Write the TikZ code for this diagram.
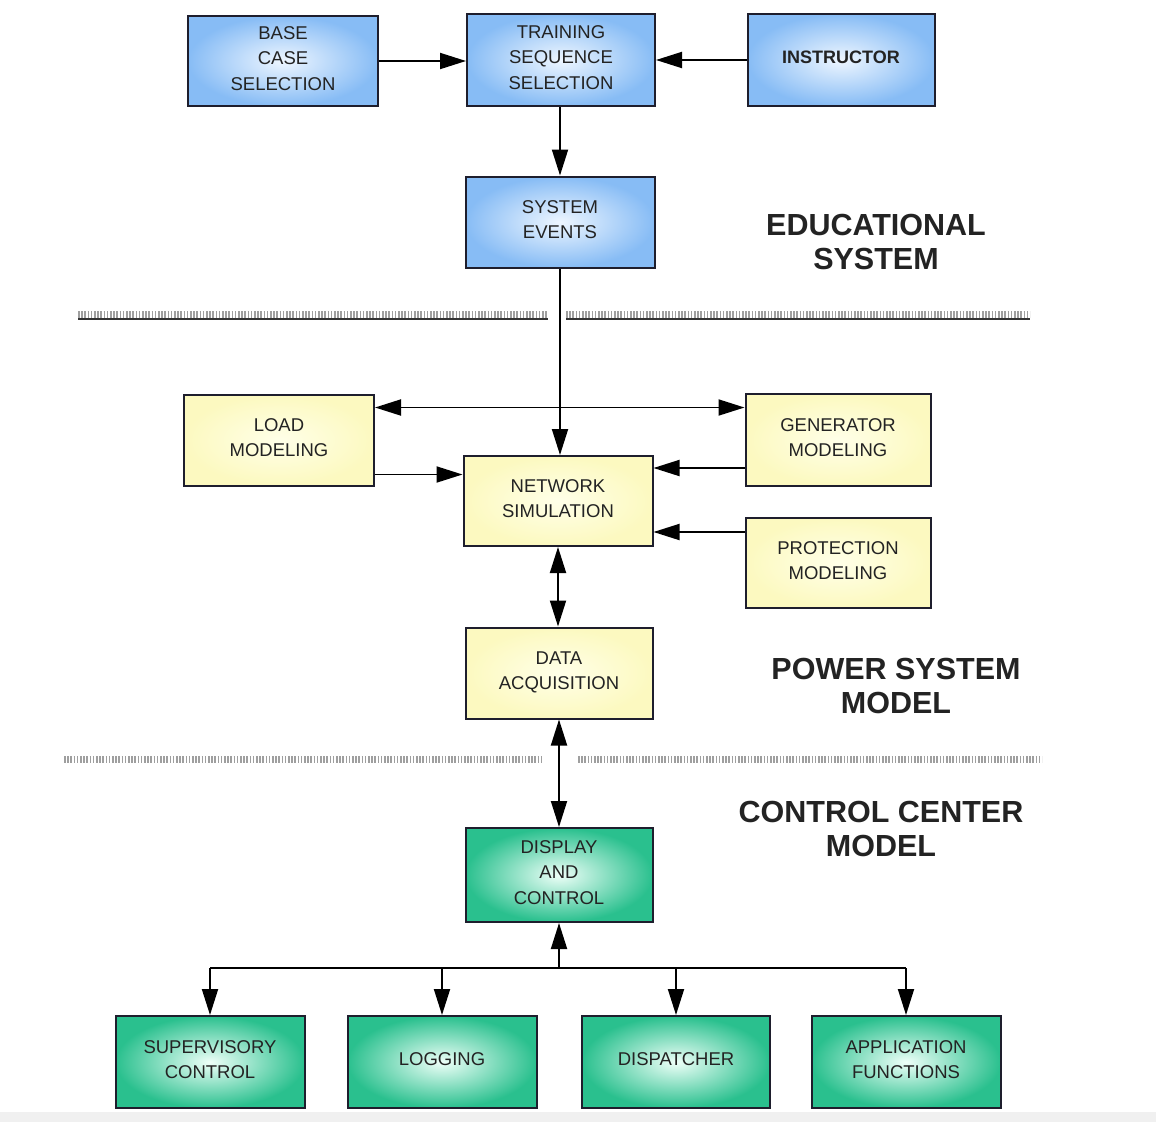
\documentclass[tikz,border=0pt]{standalone}
\usepackage{fontspec}
\setmainfont{Liberation Sans}
\usetikzlibrary{arrows.meta}
\definecolor{blueout}{RGB}{135,188,245}
\definecolor{bluein}{RGB}{238,246,255}
\definecolor{yelout}{RGB}{252,249,192}
\definecolor{yelin}{RGB}{255,255,232}
\definecolor{grnout}{RGB}{42,192,142}
\definecolor{grnin}{RGB}{238,255,248}
\definecolor{edge}{RGB}{30,30,45}
\definecolor{txt}{RGB}{35,35,35}
\tikzset{
  box/.style={draw=edge, line width=2pt, rectangle, minimum width=189pt, minimum height=91pt,
    align=center, inner sep=0pt, text depth=5pt, text=txt, font=\fontsize{18.5}{25.5}\selectfont},
  bluebox/.style={box, inner color=bluein, outer color=blueout},
  yelbox/.style={box, inner color=yelin, outer color=yelout},
  grnbox/.style={box, inner color=grnin, outer color=grnout},
  arr/.style={draw=black, line width=1.9pt, -{Triangle[length=26pt,width=16pt]}},
  darr/.style={draw=black, line width=1.9pt, {Triangle[length=26pt,width=16pt]}-{Triangle[length=26pt,width=16pt]}},
  ln/.style={draw=black, line width=1.9pt},
  title/.style={font=\fontsize{30.5}{34}\selectfont\bfseries, text=txt, align=center},
  sep/.style={draw=gray!75, line width=7pt, dash pattern=on 1.6pt off 1.6pt}
}
\begin{document}
\begin{tikzpicture}[x=1pt,y=-1pt]
\useasboundingbox (0,0) rectangle (1156,1122);
\fill[white] (0,0) rectangle (1156,1122);
\fill[black!6] (0,1112) rectangle (1156,1122);

% educational system
\node[bluebox, minimum width=190pt, minimum height=90pt] (base) at (283,61) {BASE\\CASE\\SELECTION};
\node[bluebox, minimum width=188pt, minimum height=92pt] (train) at (561,60) {TRAINING\\SEQUENCE\\SELECTION};
\node[bluebox, minimum width=187pt, minimum height=92pt, font=\fontsize{18}{25.5}\selectfont\bfseries] (instr) at (841,60) {INSTRUCTOR};
\node[bluebox, minimum width=189pt, minimum height=91pt] (sysev) at (560,222) {SYSTEM\\EVENTS};

% separator 1
\draw[sep] (78,314) -- (548,314);
\draw[sep] (566,314) -- (1030,314);
\draw[black!80, line width=1.2pt] (78,319) -- (548,319);
\draw[black!80, line width=1.2pt] (566,319) -- (1030,319);

% power system model
\node[yelbox, minimum width=190pt, minimum height=91pt] (load) at (279,440) {LOAD\\MODELING};
\node[yelbox, minimum width=185pt, minimum height=92pt] (gen) at (838,440) {GENERATOR\\MODELING};
\node[yelbox, minimum width=189pt, minimum height=90pt] (net) at (558,501) {NETWORK\\SIMULATION};
\node[yelbox, minimum width=185pt, minimum height=90pt] (prot) at (838,563) {PROTECTION\\MODELING};
\node[yelbox, minimum width=187pt, minimum height=91pt] (data) at (559,673) {DATA\\ACQUISITION};

% separator 2
\draw[sep] (64,759) -- (542,759);
\draw[sep] (578,759) -- (1042,759);

% control center
\node[grnbox, minimum width=187pt, minimum height=94pt] (disp) at (559,875) {DISPLAY\\AND\\CONTROL};
\node[grnbox, minimum width=189pt, minimum height=92pt] (sup) at (210,1062) {SUPERVISORY\\CONTROL};
\node[grnbox, minimum width=189pt, minimum height=92pt] (log) at (442,1062) {LOGGING};
\node[grnbox, minimum width=188pt, minimum height=92pt] (dsp) at (676,1062) {DISPATCHER};
\node[grnbox, minimum width=189pt, minimum height=92pt] (app) at (906,1062) {APPLICATION\\FUNCTIONS};

% titles
\node[title] (t1) at (876,242) {EDUCATIONAL\\SYSTEM};
\node[title] (t2) at (896,686) {POWER SYSTEM\\MODEL};
\node[title] (t3) at (881,829) {CONTROL CENTER\\MODEL};

% connectors
\draw[arr] (base.east) -- (base.east -| train.west);
\draw[arr] (instr.west) -- (instr.west -| train.east);
\draw[arr] (train.south -| sysev.north) -- (sysev.north);
\draw[arr] (sysev.south) -- (sysev.south |- net.north);
\draw[darr] ([yshift=-14pt]load.north east) -- ([yshift=-14pt]load.north east -| gen.west);
\draw[arr] ([yshift=12pt]load.south east) -- ([yshift=12pt]load.south east -| net.west);
\draw[arr] ([yshift=19pt]gen.south west) -- ([yshift=19pt]gen.south west -| net.east);
\draw[arr] ([yshift=-15pt]prot.north west) -- ([yshift=-15pt]prot.north west -| net.east);
\draw[darr] (net.south) -- (net.south |- data.north);
\draw[darr] (data.south) -- (data.south |- disp.north);

\coordinate (bus) at (559,968);
\draw[arr] (bus) -- (disp.south);
\draw[ln] (sup.north |- bus) -- (app.north |- bus);
\draw[arr] (sup.north |- bus) -- (sup.north);
\draw[arr] (log.north |- bus) -- (log.north);
\draw[arr] (dsp.north |- bus) -- (dsp.north);
\draw[arr] (app.north |- bus) -- (app.north);
\end{tikzpicture}
\end{document}
